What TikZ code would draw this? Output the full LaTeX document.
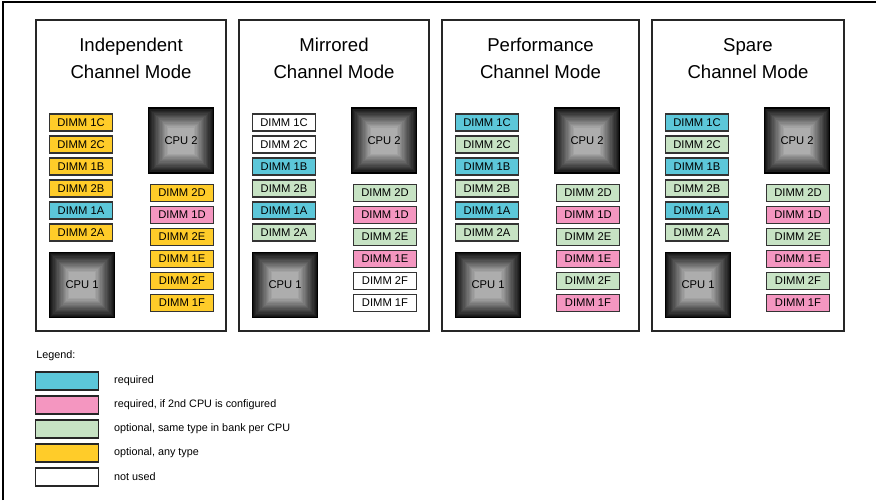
\documentclass[tikz,border=0pt]{standalone}
\usepackage{fontspec}
\setmainfont{Liberation Sans}
\usetikzlibrary{positioning}

\definecolor{reqcol}{RGB}{92,199,217}
\definecolor{cpucol}{RGB}{244,150,192}
\definecolor{bankcol}{RGB}{199,227,196}
\definecolor{anycol}{RGB}{255,204,41}
\colorlet{unusedcol}{white}

\begin{document}
\begin{tikzpicture}[
    x=0.5pt, y=-0.5pt,
    panel/.style={rectangle, draw=black!85, line width=0.8pt, minimum height=155.5pt, inner sep=0pt},
    title/.style={align=center, font=\fontsize{9.3}{13.5}\selectfont, inner sep=0pt},
    dimm/.style={rectangle, draw=black!80, line width=0.7pt, minimum width=31.5pt, minimum height=8.5pt, inner sep=0pt, font=\fontsize{5.6}{6.5}\selectfont},
    cpu/.style={rectangle, draw=black, line width=0.6pt, minimum size=32.5pt, inner sep=0pt, font=\fontsize{5.6}{6.5}\selectfont,
        path picture={
            \foreach \k [evaluate=\k as \tone using int(92-4*\k)] in {0,...,15}
                \fill[black!\tone] ([shift={(\k*0.65pt,\k*0.65pt)}]path picture bounding box.south west)
                    rectangle ([shift={(-\k*0.65pt,-\k*0.65pt)}]path picture bounding box.north east);
        }},
    swatch/.style={rectangle, draw=black!85, line width=0.8pt, minimum width=31.5pt, minimum height=9pt, inner sep=0pt},
    keytext/.style={inner sep=0pt, font=\fontsize{5.4}{6.5}\selectfont}
]
\useasboundingbox (0,0) rectangle (876,500);

% page frame (cut at right and bottom)
\draw[line width=0.8pt] (3,500) -- (3,2) -- (876,2);

% one panel per channel mode
\foreach \p/\x/\r/\mode/\leftcol/\rightcol in {
    1/36/226/Independent/{1C/anycol,2C/anycol,1B/anycol,2B/anycol,1A/reqcol,2A/anycol}/{2D/anycol,1D/cpucol,2E/anycol,1E/anycol,2F/anycol,1F/anycol},
    2/239/429/Mirrored/{1C/unusedcol,2C/unusedcol,1B/reqcol,2B/bankcol,1A/reqcol,2A/bankcol}/{2D/bankcol,1D/cpucol,2E/bankcol,1E/cpucol,2F/unusedcol,1F/unusedcol},
    3/442/639/Performance/{1C/reqcol,2C/bankcol,1B/reqcol,2B/bankcol,1A/reqcol,2A/bankcol}/{2D/bankcol,1D/cpucol,2E/bankcol,1E/cpucol,2F/bankcol,1F/cpucol},
    4/652/844/Spare/{1C/reqcol,2C/bankcol,1B/reqcol,2B/bankcol,1A/reqcol,2A/bankcol}/{2D/bankcol,1D/cpucol,2E/bankcol,1E/cpucol,2F/bankcol,1F/cpucol}}{
    \node[panel, minimum width={(\r-\x)*0.5pt}] (panel\p) at ({(\x+\r)/2},175.5) {};
    \node[title] (title\p) at ([yshift=-19.75pt]panel\p.north) {\mode\\Channel Mode};
    \foreach \lab/\c [count=\i] in \leftcol
        \node[dimm, fill=\c] (p\p-\lab) at (\x+45,100.5+22*\i) {DIMM \lab};
    \foreach \lab/\c [count=\i] in \rightcol
        \node[dimm, fill=\c] (p\p-\lab) at (\x+146,171+22*\i) {DIMM \lab};
    \node[cpu] (p\p-cpu1) at (\x+46,285) {CPU 1};
    \node[cpu] (p\p-cpu2) at (\x+145,140.5) {CPU 2};
}

% legend
\node[keytext, anchor=west] (legend) at (36,356) {Legend:};
\foreach \c/\txt [count=\i] in {reqcol/required, cpucol/{required, if 2nd CPU is configured},
    bankcol/{optional, same type in bank per CPU}, anycol/{optional, any type}, unusedcol/not used}{
    \node[swatch, fill=\c] (key\i) at (67,357+24*\i) {};
    \node[keytext, right=7.25pt of key\i] (keytext\i) {\txt};
}

\end{tikzpicture}
\end{document}
